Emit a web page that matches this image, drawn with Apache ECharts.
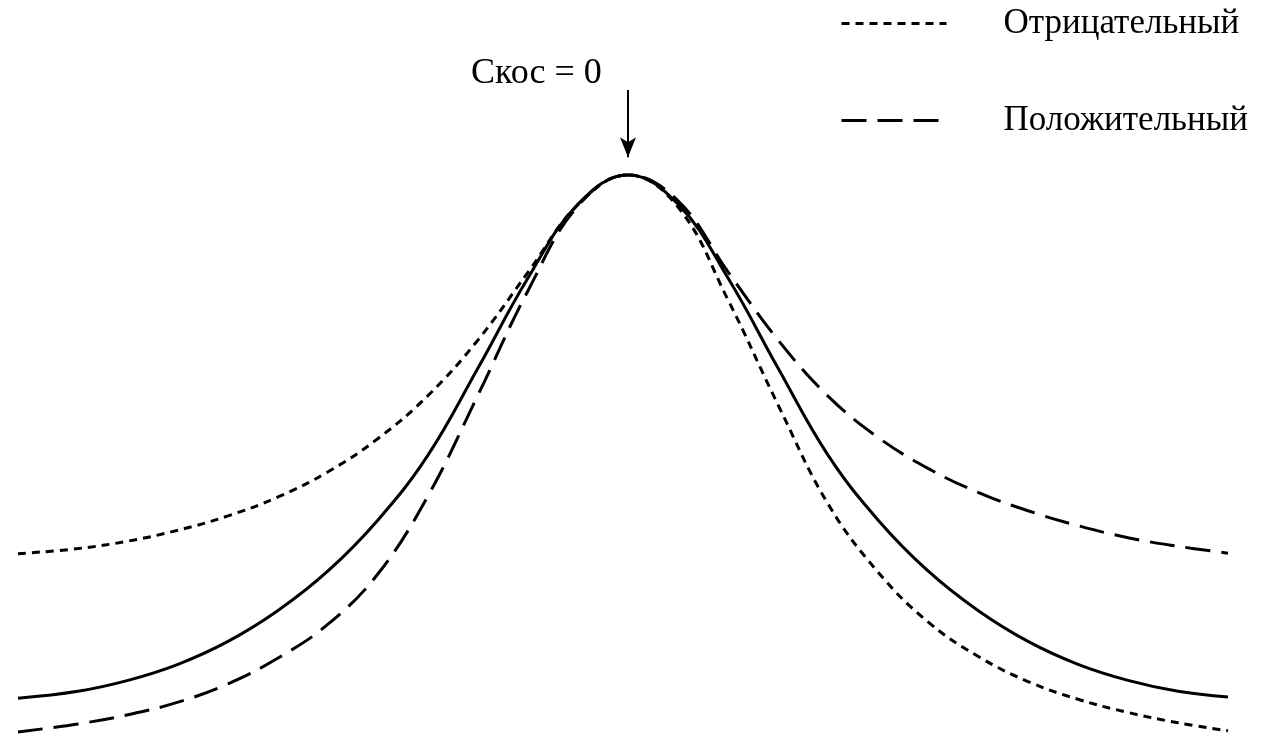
<!DOCTYPE html>
<html>
<head>
<meta charset="utf-8">
<script src="https://cdn.jsdelivr.net/npm/echarts@6/dist/echarts.min.js"></script>
<style>
html,body{margin:0;padding:0;background:#fff;}
#chart{width:1262px;height:748px;}
</style>
</head>
<body>
<div id="chart"></div>
<script>
// x positions (relative units, 0 = peak)
const xs = [-6.1, -5.5, -5, -4.5, -4, -3.5, -3, -2.5, -2, -1.5, -1, -0.5, 0, 0.5, 1, 1.5, 2, 2.5, 3, 3.5, 4, 4.5, 5, 5.5, 6.0];
// symmetric curve (skew = 0)
const symmetric = [8.7, 9.9, 11.8, 14.6, 18.6, 24.0, 30.9, 39.8, 51.1, 66.3, 82.0, 94.9, 100, 94.9, 82.0, 66.3, 51.1, 39.8, 30.9, 24.0, 18.6, 14.6, 11.8, 9.9, 8.9];
// negative skew
const negative = [33.9, 34.8, 36.1, 38.0, 40.5, 43.8, 48.2, 54.0, 61.5, 71.2, 83.0, 94.8, 100, 94.4, 78.2, 59.9, 42.6, 30.7, 22.0, 16.0, 11.6, 8.5, 6.2, 4.4, 3.0];
// positive skew
const positive = [2.8, 4.2, 5.8, 8.0, 11.2, 15.7, 21.6, 30.4, 44.0, 61.6, 79.8, 94.6, 100, 95.5, 83.1, 71.2, 61.4, 54.2, 48.8, 44.6, 41.4, 38.8, 36.7, 35.2, 34.0];

const names = ['Отрицательный', 'Положительный'];
const annotation = 'Скос = 0';
const arrowFrom = 114.8, arrowTo = 103.1;

const zip = (ys) => xs.map((x, i) => [x, ys[i]]);
const font = '"Liberation Serif", "Times New Roman", serif';

const chart = echarts.init(document.getElementById('chart'), null, {renderer: 'canvas'});
chart.setOption({
  animation: false,
  backgroundColor: '#fff',
  grid: {left: 18, right: 34, top: 3, bottom: 0},
  xAxis: {type: 'value', min: -6.1, max: 6.0, show: false},
  yAxis: {type: 'value', min: 0, max: 130, show: false},
  legend: {
    data: names,
    orient: 'vertical',
    left: 840,
    top: 6,
    padding: 0,
    itemWidth: 105,
    itemHeight: 36,
    itemGap: 62,
    itemStyle: {opacity: 0},
    lineStyle: {width: 3},
    textStyle: {fontFamily: font, fontSize: 35, color: '#000', padding: [0, 0, 0, 52]}
  },
  graphic: [{
    type: 'text',
    left: 471,
    top: 56,
    style: {text: annotation, font: '36px ' + font, fill: '#000'}
  }],
  series: [
    {
      name: 'Симметричный',
      type: 'line',
      data: zip(symmetric),
      smooth: 0.4,
      symbol: 'none',
      lineStyle: {color: '#000', width: 3, type: 'solid'},
      markLine: {
        silent: true,
        symbol: ['none', 'arrow'],
        symbolSize: [12, 20],
        label: {show: false},
        lineStyle: {color: '#000', width: 2, type: 'solid'},
        data: [[{coord: [0, arrowFrom]}, {coord: [0, arrowTo]}]]
      }
    },
    {
      name: names[0],
      type: 'line',
      data: zip(negative),
      smooth: 0.4,
      symbol: 'none',
      itemStyle: {color: '#000'},
      lineStyle: {color: '#000', width: 3, type: [8, 6]}
    },
    {
      name: names[1],
      type: 'line',
      data: zip(positive),
      smooth: 0.4,
      symbol: 'none',
      itemStyle: {color: '#000'},
      lineStyle: {color: '#000', width: 3, type: [25, 11]}
    }
  ]
});
</script>
</body>
</html>
